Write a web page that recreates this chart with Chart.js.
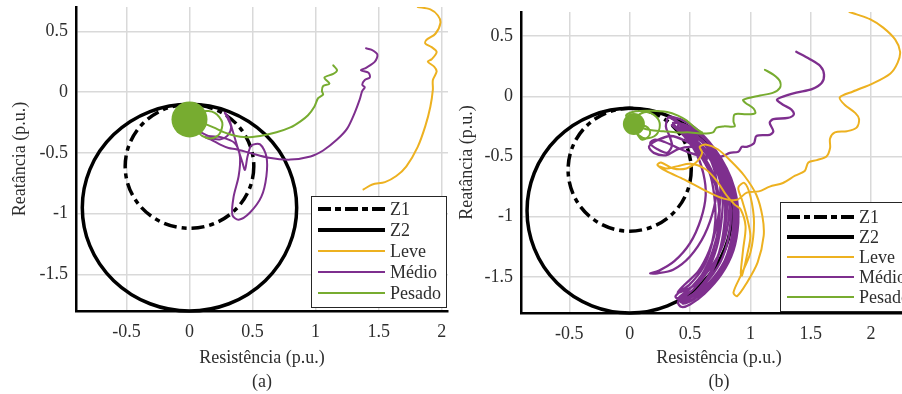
<!DOCTYPE html>
<html>
<head>
<meta charset="utf-8">
<script src="https://cdn.jsdelivr.net/npm/chart.js@4.4.1/dist/chart.umd.min.js"></script>
<style>
html, body { margin: 0; padding: 0; background: #fff; overflow: hidden; width: 902px; height: 394px; }
canvas { position: absolute; top: 0; }
#chartA { left: 0; }
#chartB { left: 446px; }
</style>
</head>
<body>
<canvas id="chartA" width="450" height="394"></canvas>
<canvas id="chartB" width="473" height="394"></canvas>
<script>
// Legend names
const seriesNames = ['Z1', 'Z2', 'Leve', 'Médio', 'Pesado'];

// Relay zones (mho circles): centre x, centre y, radius in p.u.
const zoneCenterX = [0, 0];
const zoneCenterY = [-0.61, -0.95];
const zoneRadius = [0.51, 0.85];

// Tick labels
const xTicks = [-0.5, 0, 0.5, 1, 1.5, 2];
const yTicks = [-1.5, -1, -0.5, 0, 0.5];

// ---- (a) trajectories [R, X] ----
const leveA = [
  [1.81,0.70],[1.91,0.68],[1.97,0.63],[1.99,0.57],[1.95,0.48],[1.88,0.43],[1.87,0.40],[1.92,0.37],
  [1.96,0.33],[1.92,0.27],[1.89,0.25],[1.94,0.21],[1.96,0.17],[1.93,0.10],[1.93,0.02],[1.91,-0.12],
  [1.87,-0.28],[1.81,-0.45],[1.72,-0.61],[1.64,-0.69],[1.55,-0.74],[1.45,-0.76],[1.38,-0.80]
];
const medioA = [
  [1.40,0.36],[1.44,0.35],[1.49,0.31],[1.47,0.25],[1.40,0.20],[1.36,0.18],[1.42,0.16],[1.43,0.12],
  [1.39,0.10],[1.37,0.06],[1.39,0.04],[1.37,0.01],[1.35,-0.06],[1.31,-0.17],[1.25,-0.30],[1.17,-0.39],
  [1.06,-0.48],[0.96,-0.53],[0.80,-0.555],[0.63,-0.54],[0.48,-0.50],[0.37,-0.47],[0.31,-0.46],
  [0.24,-0.43],[0.17,-0.39],[0.12,-0.37],[0.17,-0.38],[0.24,-0.39],[0.30,-0.36],[0.33,-0.29],
  [0.30,-0.21],[0.28,-0.17],[0.31,-0.21],[0.34,-0.31],[0.38,-0.45],[0.42,-0.58],[0.44,-0.64],
  [0.46,-0.53],[0.49,-0.44],[0.56,-0.43],[0.61,-0.53],[0.61,-0.69],[0.57,-0.86],[0.48,-0.99],
  [0.39,-1.05],[0.34,-1.01],[0.35,-0.86],[0.39,-0.69],[0.40,-0.53],[0.36,-0.42],[0.25,-0.37],
  [0.15,-0.36],[0.07,-0.32]
];
const pesadoA = [
  [1.14,0.22],[1.17,0.18],[1.14,0.15],[1.07,0.12],[1.11,0.07],[1.06,0.05],[1.05,0.01],[1.06,-0.02],
  [1.02,-0.05],[0.99,-0.12],[0.94,-0.19],[0.88,-0.24],[0.80,-0.29],[0.69,-0.33],[0.56,-0.36],
  [0.43,-0.37],[0.30,-0.34],[0.19,-0.29],[0.12,-0.26],[0.05,-0.23],[0.10,-0.16],[0.20,-0.17],
  [0.26,-0.25],[0.24,-0.34],[0.18,-0.38],[0.10,-0.36],[0.04,-0.29]
];
const pesadoSpotA = [[0.0,-0.225]];

// ---- (b) trajectories [R, X] ----
const leveB = [
  [1.82,0.70],[1.88,0.68],[1.99,0.64],[2.10,0.57],[2.20,0.47],[2.24,0.37],[2.22,0.28],[2.16,0.19],
  [2.02,0.11],[1.85,0.04],[1.74,-0.01],[1.78,-0.07],[1.87,-0.14],[1.90,-0.19],[1.88,-0.26],[1.80,-0.29],
  [1.70,-0.30],[1.66,-0.35],[1.66,-0.43],[1.63,-0.50],[1.55,-0.53],[1.48,-0.55],[1.45,-0.62],[1.37,-0.66],
  [1.27,-0.72],[1.16,-0.75],[1.07,-0.79],[0.97,-0.80],[0.89,-0.86],[0.78,-0.85],[0.64,-0.79],[0.45,-0.69],
  [0.30,-0.62],[0.23,-0.57],[0.26,-0.55],[0.36,-0.60],[0.47,-0.60],[0.55,-0.55],[0.60,-0.47],[0.58,-0.42],
  [0.63,-0.40],[0.73,-0.44],[0.84,-0.54],[0.95,-0.66],[1.05,-0.82],[1.10,-1.00],[1.11,-1.16],[1.06,-1.38],
  [0.97,-1.55],[0.89,-1.66],[0.86,-1.63],[0.92,-1.49],[1.00,-1.30],[1.03,-1.05],[1.00,-0.83],[0.95,-0.72],
  [0.90,-0.76],[0.93,-0.86],[0.97,-1.00],[1.00,-1.16],[0.97,-1.33],[0.93,-1.49],[0.92,-1.47],[0.94,-1.27],
  [0.96,-1.08],[0.92,-0.94],[0.87,-0.90],[0.80,-0.82],[0.72,-0.70],[0.62,-0.60],[0.50,-0.56],[0.40,-0.58],
  [0.30,-0.60],[0.24,-0.58]
];
const medioB = [
  [1.38,0.37],[1.49,0.31],[1.58,0.25],[1.61,0.18],[1.59,0.11],[1.51,0.06],[1.38,0.03],[1.25,-0.01],
  [1.22,-0.03],[1.27,-0.07],[1.34,-0.11],[1.36,-0.15],[1.31,-0.18],[1.19,-0.19],[1.16,-0.22],[1.19,-0.29],
  [1.16,-0.32],[1.05,-0.33],[1.03,-0.39],[0.97,-0.42],[0.93,-0.42],[0.90,-0.46],[0.83,-0.47],[0.76,-0.50]
];
const medioSwingsB = [
  [0.68,-0.47],[0.58,-0.43],[0.48,-0.30],[0.40,-0.22],[0.33,-0.17],[0.42,-0.19],[0.54,-0.26],[0.66,-0.38],
  [0.76,-0.52],[0.84,-0.68],[0.89,-0.86],[0.90,-1.05],[0.86,-1.28],[0.76,-1.48],[0.62,-1.64],[0.50,-1.73],
  [0.43,-1.75],[0.40,-1.71],[0.48,-1.62],[0.60,-1.48],[0.69,-1.28],[0.74,-1.06],[0.74,-0.84],[0.69,-0.64],
  [0.60,-0.48],[0.50,-0.36],[0.40,-0.27],
  [0.36,-0.22],[0.47,-0.24],[0.60,-0.33],[0.72,-0.48],[0.81,-0.66],[0.86,-0.86],[0.87,-1.06],[0.83,-1.27],
  [0.73,-1.46],[0.58,-1.62],[0.44,-1.70],[0.38,-1.66],[0.50,-1.56],[0.61,-1.42],[0.68,-1.23],[0.71,-1.03],
  [0.70,-0.82],[0.66,-0.63],[0.57,-0.47],[0.47,-0.35],
  [0.40,-0.24],[0.52,-0.28],[0.65,-0.38],[0.76,-0.53],[0.84,-0.70],[0.88,-0.90],[0.88,-1.10],[0.83,-1.32],
  [0.72,-1.52],[0.57,-1.66],[0.46,-1.72],[0.42,-1.70],[0.53,-1.60],[0.64,-1.46],[0.72,-1.26],[0.76,-1.04],
  [0.77,-0.82],[0.72,-0.62],[0.62,-0.46],[0.50,-0.34],
  [0.38,-0.26],[0.50,-0.30],[0.62,-0.40],[0.73,-0.55],[0.81,-0.74],[0.84,-0.95],[0.82,-1.17],[0.75,-1.38],
  [0.62,-1.56],[0.48,-1.67],[0.40,-1.68],[0.52,-1.58],[0.63,-1.45],[0.70,-1.26],[0.74,-1.05],[0.73,-0.83],
  [0.67,-0.62],[0.58,-0.46],[0.46,-0.34],
  [0.44,-0.28],[0.57,-0.34],[0.69,-0.46],[0.79,-0.62],[0.85,-0.82],[0.86,-1.02],[0.84,-1.22],[0.77,-1.42],
  [0.64,-1.60],[0.50,-1.70],[0.44,-1.72],[0.55,-1.62],[0.66,-1.48],[0.74,-1.30],[0.78,-1.10],[0.79,-0.88],
  [0.75,-0.66],[0.66,-0.48],[0.54,-0.36],
  [0.35,-0.24],[0.45,-0.33],[0.55,-0.47],[0.61,-0.64],[0.63,-0.82],[0.59,-1.02],[0.50,-1.22],[0.37,-1.37],
  [0.24,-1.45],[0.17,-1.47],[0.23,-1.47],[0.36,-1.44],[0.50,-1.33],[0.62,-1.15],[0.70,-0.92],[0.72,-0.72],
  [0.68,-0.55],[0.60,-0.42],[0.50,-0.32],
  [0.46,-0.30],[0.60,-0.38],[0.72,-0.52],[0.81,-0.70],[0.86,-0.92],[0.85,-1.14],[0.79,-1.36],[0.67,-1.55],
  [0.53,-1.68],[0.47,-1.70],[0.58,-1.60],[0.69,-1.44],[0.76,-1.24],[0.80,-1.02],[0.80,-0.80],[0.74,-0.60],
  [0.62,-0.44],
  [0.42,-0.25],[0.55,-0.32],[0.67,-0.45],[0.77,-0.62],[0.82,-0.82],[0.82,-1.02],[0.77,-1.24],[0.66,-1.44],
  [0.52,-1.58],[0.40,-1.63],[0.45,-1.57],[0.57,-1.45],[0.66,-1.28],[0.72,-1.08],[0.75,-0.86],[0.74,-0.65],
  [0.67,-0.47],[0.56,-0.34],
  [0.33,-0.17],[0.30,-0.25],[0.33,-0.33],[0.35,-0.41],[0.31,-0.47],[0.23,-0.44],[0.17,-0.39],[0.21,-0.36],
  [0.29,-0.38],[0.38,-0.42],[0.50,-0.47],[0.62,-0.50],[0.70,-0.49],[0.62,-0.44],[0.50,-0.42],[0.40,-0.44],
  [0.30,-0.49],[0.20,-0.47],[0.16,-0.42],[0.22,-0.37],[0.34,-0.33],[0.46,-0.37],[0.58,-0.45],[0.64,-0.52]
];
const pesadoB = [
  [1.12,0.22],[1.19,0.18],[1.245,0.125],[1.245,0.07],[1.19,0.03],[1.08,0.006],[0.94,-0.03],[0.96,-0.055],
  [1.025,-0.10],[1.04,-0.14],[0.97,-0.15],[0.87,-0.15],[0.86,-0.21],[0.87,-0.25],[0.78,-0.25],[0.72,-0.26],
  [0.69,-0.30],[0.61,-0.31],[0.50,-0.30],[0.39,-0.30],[0.28,-0.29],[0.17,-0.28],[0.10,-0.26],[0.05,-0.22],
  [0.07,-0.16],[0.14,-0.13],[0.22,-0.17],[0.25,-0.24],[0.22,-0.32],[0.14,-0.35],[0.07,-0.32],[0.04,-0.26],
  [0.06,-0.31],[0.10,-0.36],[0.15,-0.34],[0.17,-0.30],[0.15,-0.26],[0.11,-0.245],[0.06,-0.27],[0.03,-0.22],
  [-0.03,-0.16],[0.05,-0.125],[0.18,-0.12],[0.31,-0.13],[0.40,-0.16],[0.47,-0.20],[0.55,-0.27],[0.60,-0.30]
];
const pesadoSpotB = [[0.035,-0.23]];

// Styles
const seriesColors = ['#000000', '#000000', '#EDB120', '#7E2F8E', '#77AC30'];
const dashZ1 = [13, 5, 5, 5];
const fontFamily = '"Liberation Serif", serif';
const textColor = '#2e2e2e';
const gridColor = '#d9d9d9';
const serifFont = { family: fontFamily, size: 18, style: 'normal', weight: 'normal', lineHeight: 1.333 };

Chart.defaults.font.family = fontFamily;
Chart.defaults.font.size = 18;
Chart.defaults.color = textColor;

function pts(arr) {
    return arr.map(p => ({ x: p[0], y: p[1] }));
}

function lineSet(label, color, arr, width) {
    return {
        label: label,
        data: pts(arr),
        showLine: true,
        borderColor: color,
        borderWidth: width || 2,
        pointRadius: 0,
        tension: 0.3,
        borderJoinStyle: 'round',
        borderCapStyle: 'round'
    };
}

function spotSet(color, arr, radius) {
    return {
        label: 'Pesado',
        data: pts(arr),
        showLine: false,
        pointRadius: radius,
        pointBackgroundColor: color,
        pointBorderWidth: 0
    };
}

// Draw Z1 / Z2 circles through the chart scales
const zonePlugin = {
    id: 'zones',
    beforeDatasetsDraw(chart) {
        const { ctx, scales: { x, y } } = chart;
        zoneRadius.forEach((r, i) => {
            const cx = x.getPixelForValue(zoneCenterX[i]);
            const cy = y.getPixelForValue(zoneCenterY[i]);
            const rx = x.getPixelForValue(zoneCenterX[i] + r) - cx;
            const ry = cy - y.getPixelForValue(zoneCenterY[i] + r);
            ctx.save();
            ctx.beginPath();
            ctx.ellipse(cx, cy, rx, ry, 0, 0, Math.PI * 2);
            ctx.lineWidth = 3.5;
            ctx.strokeStyle = seriesColors[i];
            ctx.setLineDash(i === 0 ? dashZ1 : []);
            ctx.stroke();
            ctx.restore();
        });
    }
};

// Boxed legend inside the lower right corner of the axes
const boxLegend = {
    id: 'boxLegend',
    afterDraw(chart, args, opts) {
        const { ctx, chartArea } = chart;
        const w = 135, h = opts.height;
        const left = Math.round(chartArea.right - opts.right - w);
        const top = Math.round(chartArea.bottom - opts.bottom - h);
        ctx.save();
        ctx.fillStyle = '#fff';
        ctx.fillRect(left, top, w, h);
        ctx.strokeStyle = '#262626';
        ctx.lineWidth = 1;
        ctx.strokeRect(left + 0.5, top + 0.5, w, h);
        seriesNames.forEach((name, i) => {
            const yy = top + opts.first + i * opts.step;
            ctx.beginPath();
            ctx.moveTo(left + 7, yy);
            ctx.lineTo(left + 74, yy);
            ctx.strokeStyle = seriesColors[i];
            ctx.lineWidth = i < 2 ? 4 : 2;
            ctx.setLineDash(i === 0 ? [13, 4, 6, 4] : []);
            ctx.stroke();
            ctx.setLineDash([]);
            ctx.fillStyle = textColor;
            ctx.font = '18px ' + fontFamily;
            ctx.textBaseline = 'middle';
            ctx.textAlign = 'left';
            ctx.fillText(name, left + 79, yy + 1);
        });
        ctx.restore();
    }
};

function tickText(v) {
    return String(Math.round(v * 10) / 10);
}

function makeChart(id, cfg) {
    const ctx = document.getElementById(id).getContext('2d');
    return new Chart(ctx, {
        type: 'scatter',
        data: { datasets: cfg.datasets },
        options: {
            responsive: false,
            animation: false,
            events: [],
            layout: { autoPadding: false, padding: { top: cfg.top, right: 2, left: 0, bottom: 0 } },
            plugins: {
                legend: { display: false },
                tooltip: { enabled: false },
                boxLegend: cfg.legend
            },
            scales: {
                x: {
                    type: 'linear',
                    min: -0.9,
                    max: cfg.xMax,
                    afterFit: s => { s.height = cfg.xHeight; s.paddingLeft = 0; s.paddingRight = 0; },
                    afterBuildTicks: s => { s.ticks = xTicks.map(v => ({ value: v })); },
                    ticks: {
                        padding: 9,
                        color: textColor,
                        font: serifFont,
                        callback: tickText,
                        maxRotation: 0
                    },
                    grid: { color: gridColor, lineWidth: 1.5, drawTicks: false },
                    border: { display: true, color: '#000', width: 2.5 },
                    title: {
                        display: true,
                        text: ['Resistência (p.u.)', cfg.tag],
                        color: textColor,
                        font: serifFont,
                        padding: { top: 0, bottom: 0 }
                    }
                },
                y: {
                    type: 'linear',
                    min: -1.8,
                    max: 0.7,
                    afterFit: s => { s.width = cfg.yWidth; s.paddingTop = 0; s.paddingBottom = 0; },
                    afterBuildTicks: s => { s.ticks = yTicks.map(v => ({ value: v })); },
                    ticks: {
                        padding: 8,
                        color: textColor,
                        font: serifFont,
                        callback: tickText
                    },
                    grid: { color: gridColor, lineWidth: 1.5, drawTicks: false },
                    border: { display: true, color: '#000', width: 2.5 },
                    title: {
                        display: true,
                        text: 'Reatância (p.u.)',
                        color: textColor,
                        font: serifFont,
                        padding: { top: cfg.yTitlePad, bottom: 0 }
                    }
                }
            }
        },
        plugins: [zonePlugin, boxLegend]
    });
}

makeChart('chartA', {
    tag: '(a)',
    top: 7,
    xMax: 2.05,
    xHeight: 83,
    yWidth: 76,
    yTitlePad: 8,
    legend: { height: 111, right: 2, bottom: 4, first: 13, step: 21 },
    datasets: [
        spotSet(seriesColors[4], pesadoSpotA, 18),
        lineSet('Pesado', seriesColors[4], pesadoA),
        lineSet('Leve', seriesColors[2], leveA),
        lineSet('Médio', seriesColors[3], medioA)
    ]
});

makeChart('chartB', {
    tag: '(b)',
    top: 12,
    xMax: 2.38,
    xHeight: 81,
    yWidth: 75,
    yTitlePad: 9,
    legend: { height: 109, right: 2, bottom: 2, first: 15, step: 20 },
    datasets: [
        spotSet(seriesColors[4], pesadoSpotB, 11),
        lineSet('Pesado', seriesColors[4], pesadoB),
        lineSet('Leve', seriesColors[2], leveB),
        lineSet('Médio', seriesColors[3], medioB.concat(medioSwingsB), 2.3)
    ]
});
</script>
</body>
</html>
